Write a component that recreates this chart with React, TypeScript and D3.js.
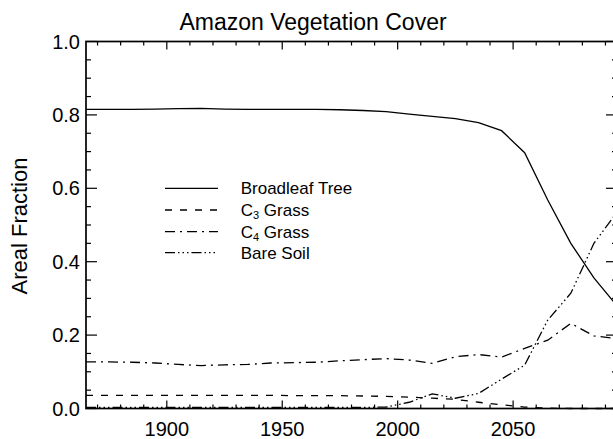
import React, { useEffect, useRef } from "react";
import { select, scaleLinear, line } from "d3";

// decadal means, plotted at the middle of each decade
const years = [
  1865, 1875, 1885, 1895, 1905, 1915, 1925, 1935, 1945, 1955, 1965, 1975,
  1985, 1995, 2005, 2015, 2025, 2035, 2045, 2055, 2065, 2075, 2085, 2095,
];
const broadleafTree = [
  0.815, 0.815, 0.815, 0.816, 0.817, 0.818, 0.816, 0.815, 0.815, 0.815,
  0.815, 0.814, 0.812, 0.809, 0.802, 0.796, 0.79, 0.779, 0.757, 0.697, 0.568,
  0.45, 0.356, 0.28,
];
const c3Grass = [
  0.036, 0.036, 0.036, 0.036, 0.036, 0.036, 0.036, 0.036, 0.036, 0.035,
  0.035, 0.035, 0.034, 0.033, 0.031, 0.028, 0.025, 0.017, 0.01, 0.004, 0.001,
  0.0, 0.0, 0.0,
];
const c4Grass = [
  0.127, 0.127, 0.126, 0.124, 0.12, 0.117, 0.119, 0.12, 0.124, 0.125, 0.126,
  0.13, 0.133, 0.136, 0.132, 0.123, 0.141, 0.147, 0.14, 0.164, 0.186, 0.232,
  0.198, 0.19,
];
const bareSoil = [
  0.003, 0.003, 0.003, 0.003, 0.003, 0.003, 0.003, 0.003, 0.003, 0.003,
  0.003, 0.003, 0.003, 0.004, 0.017, 0.04, 0.028, 0.041, 0.08, 0.118, 0.241,
  0.314, 0.45, 0.535,
];

const seriesNames = ["Broadleaf Tree", "C|3| Grass", "C|4| Grass", "Bare Soil"];
const seriesValues = [broadleafTree, c3Grass, c4Grass, bareSoil];
// IDL-ish line styles: solid, dashed, dash-dot, dash-dot-dot-dot
const dashes = ["none", "7,8", "10,5,2,5", "10,3,1.5,3,1.5,3,1.5,3"];

const xTickLabels = ["1900", "1950", "2000", "2050"];
const yTickLabels = ["0.0", "0.2", "0.4", "0.6", "0.8", "1.0"];

const FONT = "'Liberation Sans', Arial, sans-serif";

function App() {
  const svgRef = useRef(null);

  useEffect(() => {
    const svg = select(svgRef.current);
    svg.selectAll("*").remove();

    const left = 86;
    const right = 617;
    const top = 41.5;
    const bottom = 408.5;

    const xScale = scaleLinear().domain([1865, 2095]).range([left, right]);
    const yScale = scaleLinear().domain([0, 1]).range([bottom, top]);

    // title
    svg
      .append("text")
      .attr("x", 313)
      .attr("y", 30)
      .attr("text-anchor", "middle")
      .attr("font-family", FONT)
      .attr("font-size", 23)
      .text("Amazon Vegetation Cover");

    // series lines
    const lineGen = line()
      .x((d) => xScale(d[0]))
      .y((d) => yScale(d[1]));

    seriesValues.forEach((vals, i) => {
      svg
        .append("path")
        .attr("d", lineGen(years.map((y, j) => [y, vals[j]])))
        .attr("fill", "none")
        .attr("stroke", "#000")
        .attr("stroke-width", 1.3)
        .attr("stroke-dasharray", dashes[i]);
    });

    // box
    svg
      .append("rect")
      .attr("x", left)
      .attr("y", top)
      .attr("width", right - left)
      .attr("height", bottom - top)
      .attr("fill", "none")
      .attr("stroke", "#000")
      .attr("stroke-width", 1.7);

    // ticks pointing inwards on all four sides
    const g = svg.append("g").attr("stroke", "#000").attr("stroke-width", 1.2);
    const xMinor = xScale.ticks(23);
    const xMajor = xScale.ticks(5).map(String);
    xMinor.forEach((t) => {
      const len = xMajor.includes(String(t)) ? 8 : 4;
      const x = xScale(t);
      g.append("line").attr("x1", x).attr("x2", x).attr("y1", bottom).attr("y2", bottom - len);
      g.append("line").attr("x1", x).attr("x2", x).attr("y1", top).attr("y2", top + len);
    });
    const yMinor = yScale.ticks(20);
    yMinor.forEach((t) => {
      const major = Math.abs(Math.round(t * 5) - t * 5) < 1e-6;
      const len = major ? 11 : 5;
      const y = yScale(t);
      g.append("line").attr("x1", left).attr("x2", left + len).attr("y1", y).attr("y2", y);
      g.append("line").attr("x1", right).attr("x2", right - len).attr("y1", y).attr("y2", y);
    });

    // tick labels
    svg
      .selectAll(".xlab")
      .data(xTickLabels)
      .join("text")
      .attr("class", "xlab")
      .attr("x", (d) => xScale(+d))
      .attr("y", 435.5)
      .attr("text-anchor", "middle")
      .attr("font-family", FONT)
      .attr("font-size", 20)
      .text((d) => d);

    svg
      .selectAll(".ylab")
      .data(yTickLabels)
      .join("text")
      .attr("class", "ylab")
      .attr("x", 80)
      .attr("y", (d) => yScale(+d) + 7)
      .attr("text-anchor", "end")
      .attr("font-family", FONT)
      .attr("font-size", 20)
      .text((d) => d);

    // y title
    svg
      .append("text")
      .attr("transform", "translate(27,226) rotate(-90)")
      .attr("text-anchor", "middle")
      .attr("font-family", FONT)
      .attr("font-size", 22)
      .text("Areal Fraction");

    // legend
    const rowY = [188.3, 210, 231.7, 252.7];
    seriesNames.forEach((name, i) => {
      svg
        .append("line")
        .attr("x1", 165)
        .attr("x2", 218)
        .attr("y1", rowY[i])
        .attr("y2", rowY[i])
        .attr("stroke", "#000")
        .attr("stroke-width", 1.3)
        .attr("stroke-dasharray", dashes[i]);
      const txt = svg
        .append("text")
        .attr("x", 240.7)
        .attr("y", rowY[i] + 6)
        .attr("font-family", FONT)
        .attr("font-size", 17);
      // "|n|" marks a subscript
      const parts = name.split("|");
      if (parts.length === 3) {
        txt.append("tspan").text(parts[0]);
        txt.append("tspan").attr("font-size", 11).attr("dy", 3).text(parts[1]);
        txt.append("tspan").attr("dy", -3).text(parts[2]);
      } else {
        txt.text(name);
      }
    });
  }, []);

  return (
    <svg
      ref={svgRef}
      width={613}
      height={439}
      style={{ position: "absolute", left: 0, top: 0, background: "#fff" }}
    />
  );
}

export default App;
